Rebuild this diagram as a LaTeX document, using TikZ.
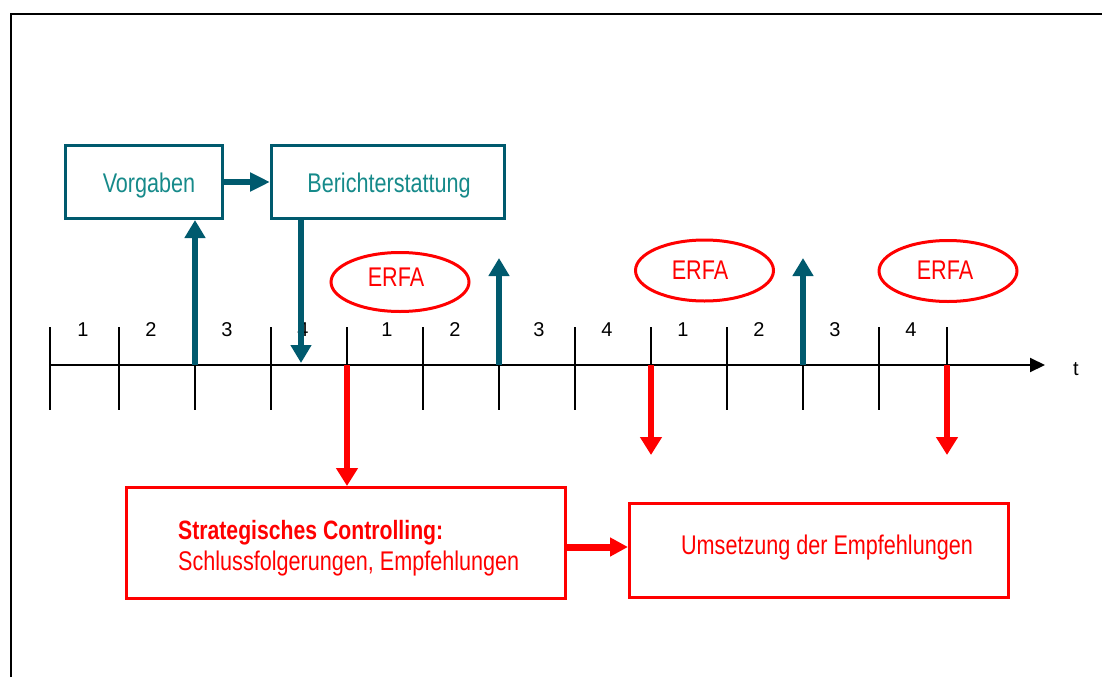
\documentclass[tikz,border=0pt]{standalone}
\usepackage{fontspec}
\setmainfont{Liberation Sans}
\newfontfamily\narrowfont[FakeStretch=0.8]{Liberation Sans}
\usetikzlibrary{arrows.meta,shapes.geometric}
\definecolor{tealline}{RGB}{0,90,110}
\definecolor{tealtext}{RGB}{22,138,138}
\definecolor{redline}{RGB}{255,0,0}
\begin{document}
\begin{tikzpicture}[x=1pt,y=-1pt,
  tbox/.style={draw=tealline,line width=3pt,inner sep=0pt},
  rbox/.style={draw=redline,line width=3pt,inner sep=0pt},
  erfa/.style={draw=redline,line width=3pt,ellipse,inner sep=0pt},
  ttext/.style={anchor=base,text=tealtext,font=\narrowfont\fontsize{27}{31}\selectfont},
  rtext/.style={anchor=base,text=redline,font=\narrowfont\fontsize{27}{31}\selectfont},
  num/.style={anchor=base,font=\fontsize{20}{23}\selectfont},
  tarrow/.style={draw=tealline,line width=6pt,-{Triangle[width=20pt,length=18pt]}},
  rarrow/.style={draw=redline,line width=6pt,-{Triangle[width=21pt,length=18pt]}},
  tick/.style={draw=black,line width=1.6pt},
]
\useasboundingbox (0,0) rectangle (1102,677);
% frame
\draw[line width=2.4pt] (11,677) -- (11,14) -- (1102,14);

% boxes
\node[tbox,minimum width=157pt,minimum height=73pt] (vorg) at (144,182) {};
\node[tbox,minimum width=233pt,minimum height=73pt] (ber) at (388,182) {};
\node[rbox,minimum width=439pt,minimum height=111pt] (strat) at (346,543) {};
\node[rbox,minimum width=379pt,minimum height=94pt] (ums) at (819,550.5) {};

\node[ttext] (vorgt) at (149,192) {Vorgaben};
\node[ttext] (bert) at (389,192) {Berichterstattung};
\node[rtext,anchor=base west,inner sep=0pt,font=\narrowfont\bfseries\fontsize{26.5}{31}\selectfont] (strat1) at (178,539) {Strategisches Controlling:};
\node[rtext,anchor=base west,inner sep=0pt] (strat2) at (178,570) {Schlussfolgerungen, Empfehlungen};
\node[rtext] (umst) at (827,554) {Umsetzung der Empfehlungen};

% ellipses
\node[erfa,minimum width=138pt,minimum height=59pt] (e1) at (400,282) {};
\node[erfa,minimum width=138pt,minimum height=61pt] (e2) at (704.5,270.5) {};
\node[erfa,minimum width=138pt,minimum height=61pt] (e3) at (948,271) {};
\node[rtext] at (396,286) {ERFA};
\node[rtext] at (700,279) {ERFA};
\node[rtext] at (945,279) {ERFA};

% timeline
\coordinate (t0) at (50,365);
\coordinate (tend) at (1045,365);
\draw[line width=2pt,-{Triangle[width=14pt,length=15pt]}] (t0) -- (tend);
\node[num] (tlab) at (1076,375) {t};
\foreach \x in {50,119,195,271,347,423,499,575,651,727,803,879,947}
  \draw[tick] (\x,327) -- (\x,410);
\foreach \x/\n in {83/1,151/2,227/3,303/4,387/1,455/2,539/3,607/4,683/1,759/2,835/3,911/4}
  \node[num] at (\x,336) {\n};

% teal arrows
\coordinate (u1) at (195,365);
\coordinate (u2) at (499,365);
\coordinate (u2t) at (499,258);
\coordinate (u3) at (803,365);
\coordinate (u3t) at (803,258);
\coordinate (d1) at (301,363);
\draw[tarrow] (u1) -- (u1 |- vorg.south);
\draw[tarrow] (u2) -- (u2t);
\draw[tarrow] (u3) -- (u3t);
\draw[tarrow] (d1 |- ber.south) -- (d1);
\draw[draw=tealline,line width=6pt,-{Triangle[width=18pt,length=20pt]}] (vorg.east) -- (ber.west);

% red arrows
\coordinate (r1) at (347,365);
\coordinate (r2) at (651,365);
\coordinate (r2t) at (651,455);
\coordinate (r3) at (947,365);
\coordinate (r3t) at (947,455);
\draw[rarrow] (r1) -- (r1 |- strat.north);
\draw[rarrow] (r2) -- (r2t);
\draw[rarrow] (r3) -- (r3t);
\draw[draw=redline,line width=7pt,-{Triangle[width=18pt,length=18pt]}] (strat.east |- 0,547) -- (ums.west |- 0,547);
\end{tikzpicture}
\end{document}
